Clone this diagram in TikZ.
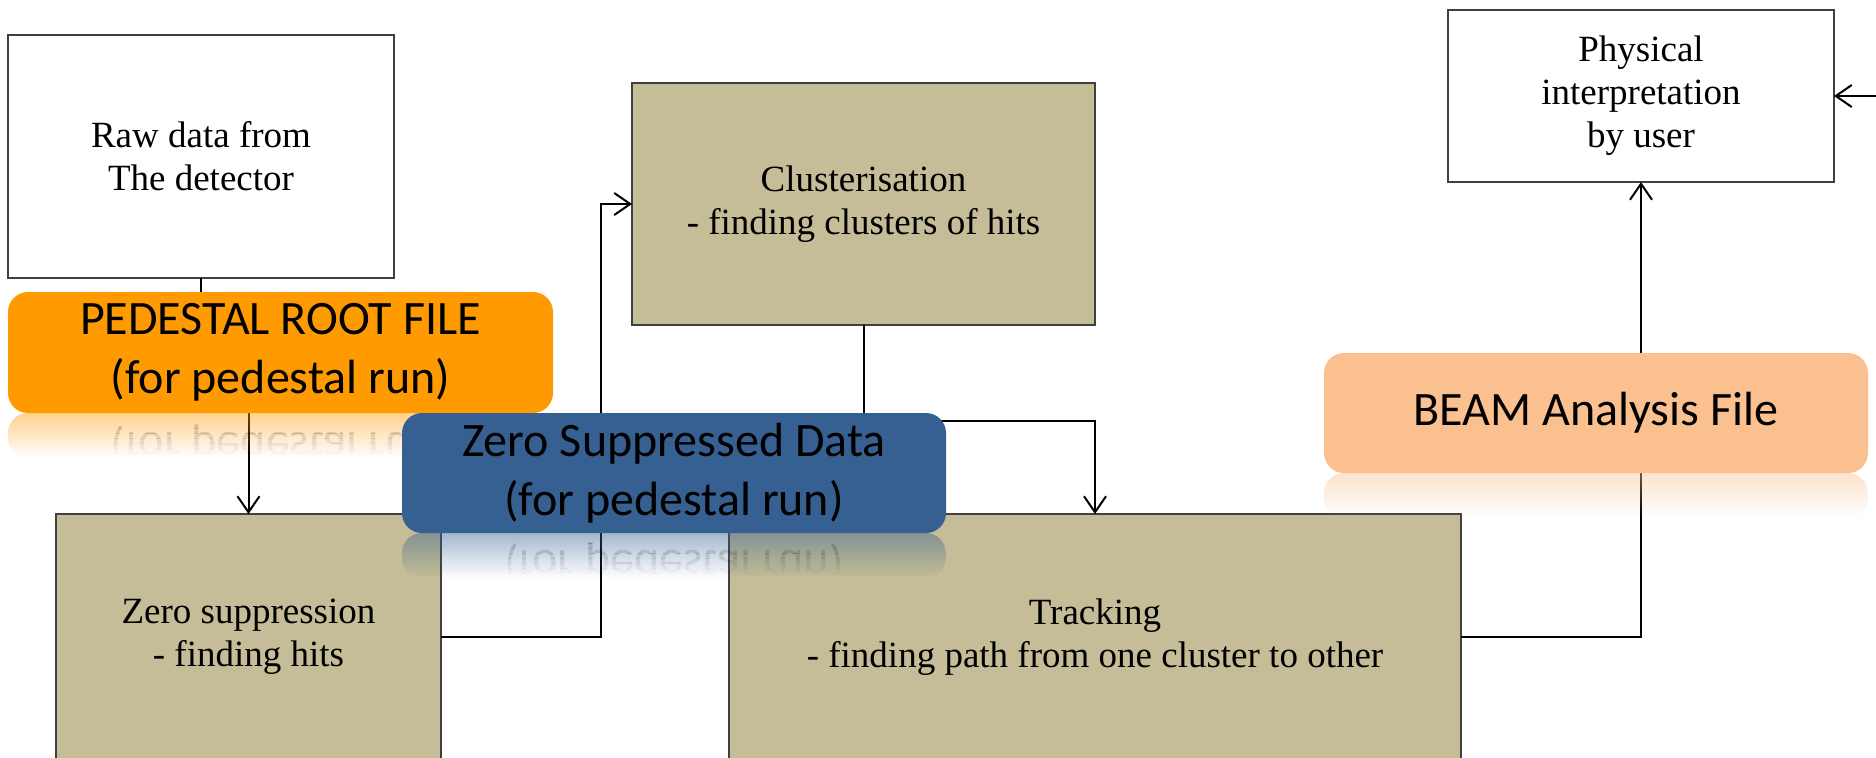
\documentclass[tikz,border=0pt]{standalone}
\usepackage{fontspec}
\setmainfont{Liberation Serif}
\newfontfamily\calfont{Carlito}
\usetikzlibrary{arrows.meta,fadings,calc}
\pgfdeclarelayer{bg}
\pgfdeclarelayer{fg}
\pgfsetlayers{bg,main,fg}
\definecolor{khaki}{HTML}{C4BD97}
\definecolor{pedorange}{HTML}{FF9A00}
\definecolor{zsblue}{HTML}{376092}
\definecolor{peach}{HTML}{FAC090}
\definecolor{boxline}{HTML}{404040}
\tikzfading[name=reflfade, top color=transparent!55, bottom color=transparent!100]
\begin{document}
\begin{tikzpicture}[x=0.5pt,y=-0.5pt,
  plainbox/.style={draw=boxline, line width=0.75pt, inner sep=0pt, outer sep=0pt, align=center, font=\fontsize{18.5}{21.5}\selectfont},
  whitebox/.style={plainbox, fill=white},
  khakibox/.style={plainbox, fill=khaki},
  filebox/.style={rounded corners=10pt, inner sep=0pt, outer sep=0pt, align=center, font=\calfont\fontsize{24}{29.5}\selectfont},
  conn/.style={line width=1pt, black},
  arr/.style={conn, -{Straight Barb[length=8pt,width=11pt,line width=1pt]}},
  refltext/.style={filebox, transform shape, minimum width=272pt, minimum height=60pt}
]
\begin{pgfonlayer}{bg}
\fill[white] (0,0) rectangle (1876,757);
\end{pgfonlayer}
\useasboundingbox (0,0) rectangle (1876,757);

% plain and khaki boxes
\node[whitebox, minimum width=193pt, minimum height=121.5pt] (raw) at (201,156.5) {Raw data from\\The detector};
\node[khakibox, minimum width=231.5pt, minimum height=121pt] (clus) at (863.5,204) {Clusterisation\\- finding clusters of hits};
\node[khakibox, minimum width=192.5pt, minimum height=123pt] (zs) at (248.5,637) {Zero suppression\\- finding hits};
\node[khakibox, minimum width=366pt, minimum height=123pt] (track) at (1095,637) {Tracking\\- finding path from one cluster to other};
\node[whitebox, minimum width=193pt, minimum height=86pt] (phys) at (1641,96) {Physical\\interpretation\\by user};

% coloured file boxes (drawn on top)
\begin{pgfonlayer}{fg}
% reflections
\fill[pedorange, path fading=reflfade, rounded corners=10pt] (8,413) rectangle (553,458);
\fill[zsblue, path fading=reflfade, rounded corners=10pt] (402,533) rectangle (946,578);
\fill[peach, path fading=reflfade, rounded corners=10pt] (1324,473) rectangle (1868,518);
\foreach \i in {0,...,7} {
  \pgfmathsetmacro\op{0.2*(1-\i/8)}
  \begin{scope}
    \clip (8,413+5*\i) rectangle (553,418+5*\i);
    \begin{scope}[shift={(280.5,413)}, yscale=-1]
      \node[refltext, text opacity=\op] at (0,-60.5) {PEDESTAL ROOT FILE\\(for pedestal run)};
    \end{scope}
  \end{scope}
  \begin{scope}
    \clip (402,533+5*\i) rectangle (946,538+5*\i);
    \begin{scope}[shift={(674,533)}, yscale=-1]
      \node[refltext, text opacity=\op] at (0,-60) {Zero Suppressed Data\\(for pedestal run)};
    \end{scope}
  \end{scope}
}
\node[filebox, fill=pedorange, minimum width=272.5pt, minimum height=60.5pt] (ped) at (280.5,352.5) {PEDESTAL ROOT FILE\\(for pedestal run)};
\node[filebox, fill=zsblue, minimum width=272pt, minimum height=60pt] (zsd) at (674,473) {Zero Suppressed Data\\(for pedestal run)};
\node[filebox, fill=peach, minimum width=272pt, minimum height=60pt] (beam) at (1596,413) {BEAM Analysis File};
\end{pgfonlayer}

% connectors
\coordinate (j1) at (601,0);
\coordinate (j2) at (1095,421);
\coordinate (rin) at (1876,96);
\draw[conn] (raw.south) -- (raw.south |- ped.north);
\draw[arr] (ped.south -| zs.north) -- (zs.north);
\draw[arr] (zs.east) -- (zs.east -| j1) |- (clus.west);
\draw[arr] (clus.south) |- (j2) -- (track.north);
\draw[arr] (track.east) -| (phys.south);
\draw[arr] (rin) -- (phys.east);
\end{tikzpicture}
\end{document}
